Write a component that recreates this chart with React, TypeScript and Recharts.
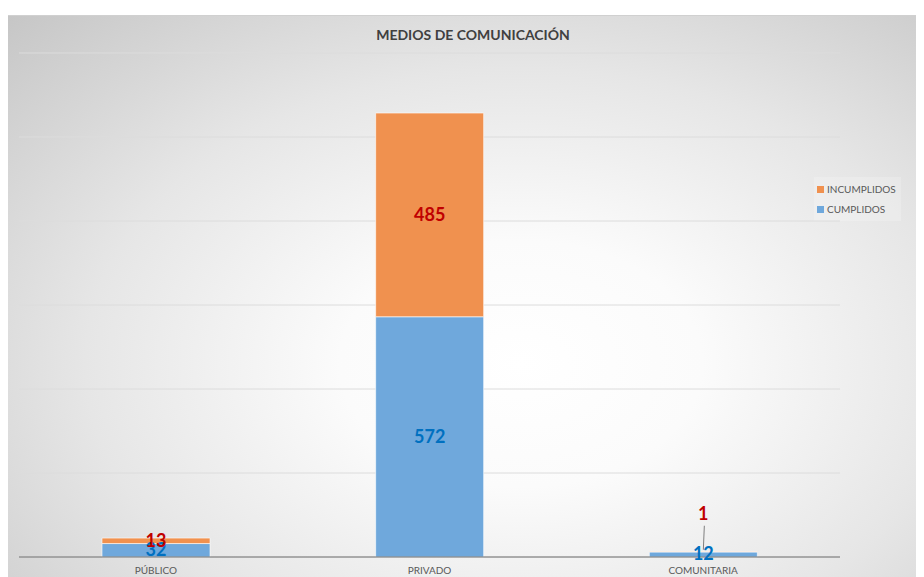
import { BarChart, Bar, XAxis, YAxis, CartesianGrid, LabelList } from "recharts";

const categories = ["PÚBLICO", "PRIVADO", "COMUNITARIA"];
const cumplidos = [32, 572, 12];
const incumplidos = [13, 485, 1];
const yTicks = [0, 200, 400, 600, 800, 1000, 1200];

const data = categories.map((name, i) => ({
  name,
  cumplidos: cumplidos[i],
  incumplidos: incumplidos[i],
}));

const BLUE = "#6FA8DC";
const ORANGE = "#F0914F";
const FONT = "Lato, 'Open Sans', sans-serif";

const labelStyle = { fontFamily: FONT, fontSize: 18, fontWeight: 700 };

function blueLabel(props: any) {
  const { x, y, width, height, value } = props;
  return (
    <text x={x + width / 2} y={y + height / 2 + 6} textAnchor="middle" fill="#0070C0" style={labelStyle}>
      {value}
    </text>
  );
}

function redLabel(props: any) {
  const { x, y, width, height, value, index } = props;
  const cx = x + width / 2;
  const cy = y + height / 2;
  if (index === 2) {
    // tiny segment: label pulled up with a leader line, like Excel
    return (
      <g>
        <line x1={cx + 1} y1={cy - 26} x2={cx} y2={cy - 2} stroke="#7f7f7f" strokeWidth={1} />
        <text x={cx} y={cy - 32} textAnchor="middle" fill="#C00000" style={labelStyle}>
          {value}
        </text>
      </g>
    );
  }
  return (
    <text x={cx} y={cy + 6} textAnchor="middle" fill="#C00000" style={labelStyle}>
      {value}
    </text>
  );
}

const legendItems = [
  { label: "INCUMPLIDOS", color: ORANGE },
  { label: "CUMPLIDOS", color: BLUE },
];

export default function App() {
  return (
    <div
      style={{
        position: "relative",
        marginTop: 7,
        width: 916,
        height: 562,
        background:
          "radial-gradient(ellipse farthest-corner at 56% 62%, #ffffff 0%, #fbfbfb 25%, #e6e6e6 60%, #c6c6c6 100%)",
        borderTop: "1px solid #d0d0d0",
        boxSizing: "border-box",
      }}
    >
      <div
        style={{
          position: "absolute",
          top: 10,
          left: 0,
          width: 930,
          textAlign: "center",
          fontFamily: FONT,
          fontSize: 14,
          fontWeight: 700,
          color: "#404040",
        }}
      >
        MEDIOS DE COMUNICACIÓN
      </div>
      <div
        style={{
          position: "absolute",
          left: 806,
          top: 161,
          width: 84,
          padding: "2px 0 2px 3px",
          background: "rgba(255,255,255,0.2)",
          fontFamily: FONT,
          fontSize: 10,
          color: "#595959",
          lineHeight: "20px",
        }}
      >
        {legendItems.map((it) => (
          <div key={it.label} style={{ display: "flex", alignItems: "center" }}>
            <span style={{ width: 7, height: 7, background: it.color, display: "inline-block", marginRight: 3 }} />
            {it.label}
          </div>
        ))}
      </div>
      <BarChart
        width={916}
        height={561}
        data={data}
        margin={{ top: 37, right: 84, left: 11, bottom: 0 }}
      >
        <CartesianGrid vertical={false} stroke="#dcdcdc" />
        <XAxis
          dataKey="name"
          axisLine={{ stroke: "#6f6f6f" }}
          tickLine={false}
          height={20}
          tick={{ fontFamily: FONT, fontSize: 10, fill: "#595959" }}
          tickMargin={4}
        />
        <YAxis hide domain={[0, 1200]} ticks={yTicks} />
        <Bar dataKey="cumplidos" name="CUMPLIDOS" stackId="a" fill={BLUE} stroke="#ffffff" strokeWidth={0.6} barSize={108} isAnimationActive={false}>
          <LabelList dataKey="cumplidos" content={blueLabel} />
        </Bar>
        <Bar dataKey="incumplidos" name="INCUMPLIDOS" stackId="a" fill={ORANGE} stroke="#ffffff" strokeWidth={0.6} barSize={108} isAnimationActive={false}>
          <LabelList dataKey="incumplidos" content={redLabel} />
        </Bar>
      </BarChart>
    </div>
  );
}
